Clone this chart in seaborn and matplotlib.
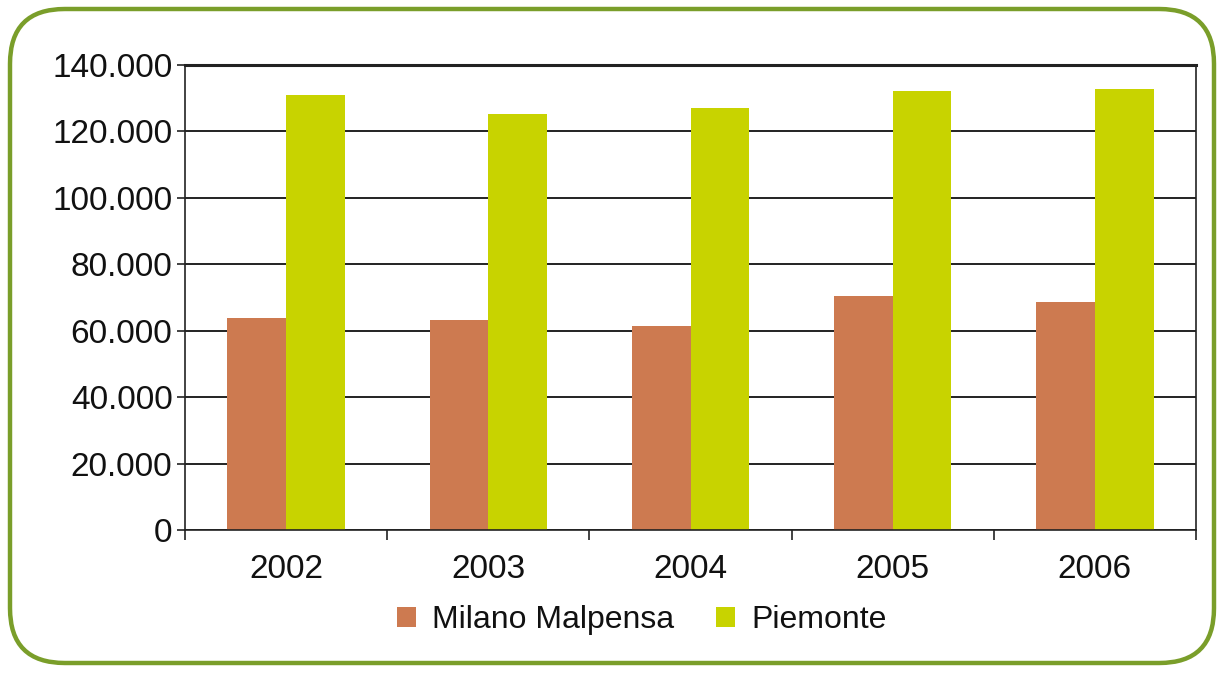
import matplotlib
matplotlib.use("Agg")
import matplotlib.pyplot as plt
import matplotlib.ticker as mticker
from matplotlib.patches import FancyBboxPatch
import seaborn as sns
import pandas as pd

years = ["2002", "2003", "2004", "2005", "2006"]
milano = [63900, 63300, 61300, 70400, 68600]
piemonte = [131000, 125300, 127200, 132300, 132900]
series_names = ["Milano Malpensa", "Piemonte"]
colors = ["#CD7A50", "#C8D300"]

df = pd.DataFrame({
    "Anno": years * 2,
    "Valore": milano + piemonte,
    "Serie": [series_names[0]] * len(years) + [series_names[1]] * len(years),
})

sns.set_theme(style="white")
plt.rcParams["font.family"] = ["Liberation Sans", "DejaVu Sans"]

W, H = 1217, 673
fig = plt.figure(figsize=(W / 100, H / 100), dpi=100)
ax = fig.add_axes([185 / W, 1 - 530 / H, (1196 - 185) / W, (530 - 65) / H])

sns.barplot(data=df, x="Anno", y="Valore", hue="Serie", palette=colors,
            width=0.58, saturation=1, ax=ax, legend=True, edgecolor="none")

ax.set_ylim(0, 140000)
ax.set_xlim(-0.5, len(years) - 0.5)
ax.yaxis.set_major_locator(mticker.MultipleLocator(20000))
ax.yaxis.set_major_formatter(mticker.FuncFormatter(
    lambda v, p: "0" if v == 0 else f"{int(v):,}".replace(",", ".")))
ax.yaxis.grid(True, color="#222222", linewidth=1.4)
ax.set_axisbelow(True)
ax.set_xlabel("")
ax.set_ylabel("")

for s in ["left", "right", "bottom", "top"]:
    ax.spines[s].set_visible(True)
    ax.spines[s].set_color("#222222")
    ax.spines[s].set_linewidth(1.2)
ax.spines["top"].set_linewidth(2.2)

ax.tick_params(axis="y", which="major", left=True, length=6, width=1.2,
               color="#222222", labelsize=24, pad=3, labelcolor="#111111")
ax.set_xticks(range(len(years)))
ax.set_xticklabels(years)
ax.tick_params(axis="x", which="major", bottom=False, labelsize=24,
               pad=11, labelcolor="#111111")
ax.set_xticks([i - 0.5 for i in range(len(years) + 1)], minor=True)
ax.tick_params(axis="x", which="minor", bottom=True, length=7, width=1.2,
               color="#222222")

leg = ax.legend(loc="upper center", bbox_to_anchor=(0.452, -0.10), ncol=2,
                frameon=False, fontsize=23, handlelength=0.6,
                handleheight=0.6, handletextpad=0.5, columnspacing=1.3)
for t in leg.get_texts():
    t.set_color("#111111")

border = FancyBboxPatch((10 / W, 10 / H), (1214 - 10) / W, (664 - 10) / H,
                        boxstyle="round,pad=0,rounding_size=0.045",
                        transform=fig.transFigure, facecolor="none",
                        edgecolor="#7A9E2A", linewidth=3.2, clip_on=False,
                        mutation_aspect=W / H)
fig.patches.append(border)

fig.savefig("out.png", dpi=100, facecolor="white")
